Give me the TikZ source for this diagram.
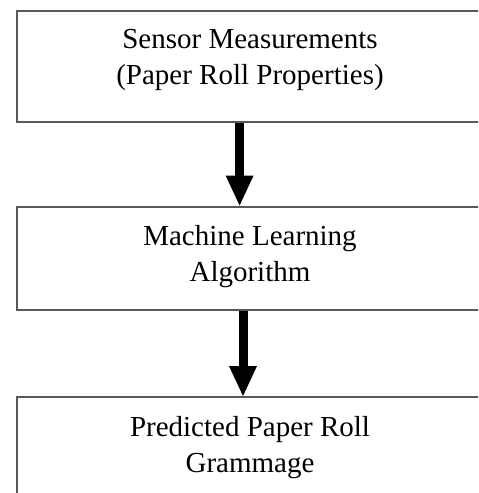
\documentclass[tikz,border=0pt]{standalone}
\usepackage{fontspec}
\setmainfont{Liberation Serif}
\usetikzlibrary{arrows.meta}

\begin{document}
\begin{tikzpicture}[x=0.5pt,y=-0.5pt,
  stage/.style={draw=black!65,line width=1pt,minimum width=233pt,inner sep=0pt},
  caption/.style={anchor=north,align=center,inner sep=0pt,font=\fontsize{14.5}{18}\selectfont},
  flow/.style={line width=4.5pt,-{Triangle[width=14pt,length=15pt,line width=0pt]}}]
\useasboundingbox (0,0) rectangle (478,493);
\clip (0,0) rectangle (478,493);
\node[stage,minimum height=55.5pt] (sensor) at (250,66.2) {};
\node[caption] (sensortxt) at ([yshift=-9.5pt]sensor.north) {Sensor Measurements\\(Paper Roll Properties)};
\node[stage,minimum height=51.5pt] (learner) at (250,258) {};
\node[caption] (learnertxt) at ([yshift=-9.5pt]learner.north) {Machine Learning\\Algorithm};
\node[stage,minimum height=56pt] (grammage) at (250,453) {};
\node[caption] (grammagetxt) at ([yshift=-10pt]grammage.north) {Predicted Paper Roll\\Grammage};
\draw[flow] ([xshift=-5.2pt]sensor.south) -- ([xshift=-5.2pt]learner.north);
\draw[flow] ([xshift=-3.5pt]learner.south) -- ([xshift=-3.5pt]grammage.north);
\end{tikzpicture}
\end{document}
